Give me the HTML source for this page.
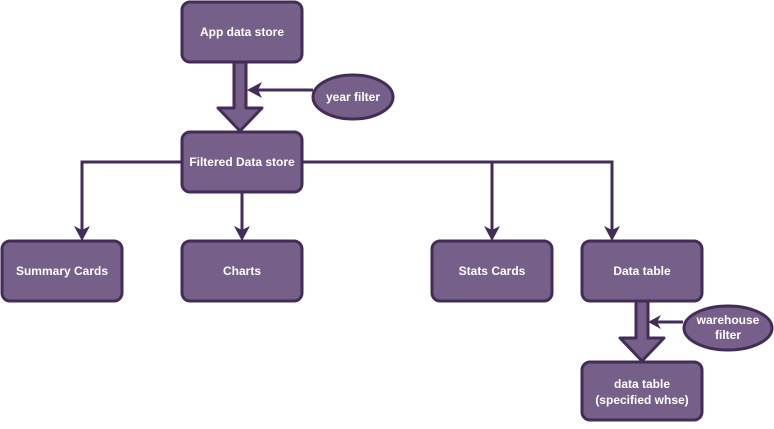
<!DOCTYPE html>
<html><head><style>body{margin:0;background:#fff}</style></head><body>
<svg width="774" height="424" viewBox="0 0 774 424" xmlns="http://www.w3.org/2000/svg" font-family="Liberation Sans, sans-serif" font-weight="bold" font-size="12" fill="#fff">
<g fill="none" stroke="#432d57" stroke-width="3">
<path d="M182 162H82V232"/><path d="M302 162H612V232"/><path d="M492 162V232"/><path d="M242 192V232"/>
<path d="M313 90H252"/><path d="M683 322H654"/>
</g>
<g fill="#432d57">
<path d="M74 226L82 241L90 226L82 230Z"/><path d="M234 226L242 241L250 226L242 230Z"/>
<path d="M484 226L492 241L500 226L492 230Z"/><path d="M604 226L612 241L620 226L612 230Z"/>
<path d="M262 82L247 90L262 98L258 90Z"/><path d="M661 315L648 322L661 329L657 322Z"/>
</g>
<g fill="#76608a" stroke="#432d57" stroke-width="3" stroke-linejoin="round">
<path d="M234 62H246V108H262L240 131L218 108H234Z"/>
<path d="M636 301H648V338H664L642 361L620 338H636Z"/>
<rect x="182" y="2" width="120" height="60" rx="8"/>
<rect x="182" y="132" width="120" height="60" rx="8"/>
<rect x="2" y="241" width="120" height="60" rx="8"/>
<rect x="182" y="241" width="120" height="60" rx="8"/>
<rect x="432" y="241" width="120" height="60" rx="8"/>
<rect x="582" y="241" width="120" height="60" rx="8"/>
<rect x="582" y="362" width="120" height="58" rx="8"/>
<ellipse cx="353" cy="97" rx="40" ry="22"/>
<ellipse cx="728" cy="328" rx="44" ry="22"/>
</g>
<g text-anchor="middle">
<text x="242" y="36">App data store</text>
<text x="242" y="166">Filtered Data store</text>
<text x="62" y="275">Summary Cards</text>
<text x="242" y="275">Charts</text>
<text x="492" y="275">Stats Cards</text>
<text x="642" y="275">Data table</text>
<text x="642" y="388">data table</text>
<text x="642" y="404">(specified whse)</text>
<text x="353" y="101">year filter</text>
<text x="728" y="324">warehouse</text>
<text x="728" y="339">filter</text>
</g>
</svg>
</body></html>
